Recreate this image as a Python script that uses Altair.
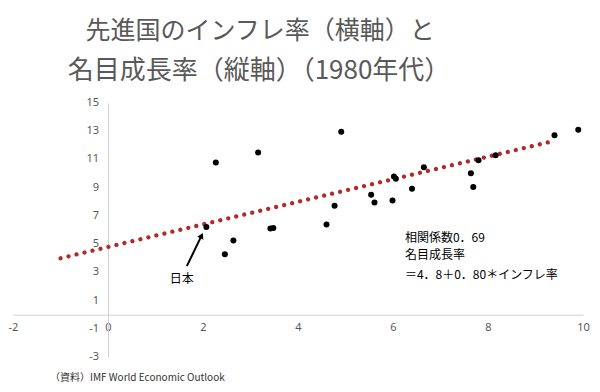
import altair as alt
import pandas as pd

# --- data ---
inflation = [2.27, 3.16, 2.07, 2.64, 2.46, 3.42, 3.48, 4.91, 4.60, 4.77, 5.54, 5.61,
             5.99, 6.02, 6.06, 6.40, 6.65, 7.64, 7.69, 7.80, 8.16, 9.40, 9.90]
growth = [10.78, 11.49, 6.22, 5.26, 4.29, 6.10, 6.15, 12.96, 6.39, 7.71, 8.49, 7.95,
          8.09, 9.80, 9.64, 8.92, 10.45, 10.03, 9.04, 10.95, 11.30, 12.72, 13.10]

trend_x = [-1.0, 9.41]
trend_y = [4.0, 12.33]

x_ticks = [-2, 0, 2, 4, 6, 8, 10]
y_ticks = [-3, -1, 1, 3, 5, 7, 9, 11, 13, 15]

title_lines = ["先進国のインフレ率（横軸）と", "名目成長率（縦軸）（1980年代）"]
note_lines = ["相関係数0．69", "名目成長率", "＝4．8＋0．80＊インフレ率"]
japan_label = "日本"
source_text = "（資料）IMF World Economic Outlook"

# arrow (tail -> head) in data units
arrow_x = [1.66, 1.97]
arrow_y = [3.44, 5.60]

FONT = "Noto Sans CJK JP"

pts = pd.DataFrame({"x": inflation, "y": growth})
trend = pd.DataFrame({"x": trend_x, "y": trend_y})

xs = alt.Scale(domain=[-2, 10], nice=False, zero=False)
ys = alt.Scale(domain=[-3, 15], nice=False, zero=False)

base_axis = dict(title=None, ticks=False, grid=False, labelFont="Noto Sans",
                 labelFontSize=11, labelColor="#595959", domainColor="#d0d0d0",
                 domainWidth=1, labelOverlap=False, labelFlush=False,
                 labelBound=False, labelExpr="'' + datum.value")

points = alt.Chart(pts).mark_circle(color="black", opacity=1, size=36).encode(
    x=alt.X("x:Q", scale=xs, axis=alt.Axis(values=x_ticks, offset=-42.33,
                                           labelPadding=7, **base_axis)),
    y=alt.Y("y:Q", scale=ys, axis=alt.Axis(values=y_ticks, offset=-95,
                                           labels=False, title=None, ticks=False,
                                           grid=False, domainColor="#d0d0d0")),
)

# y tick labels drawn as text next to the x = 0 axis line
ytick_df = pd.DataFrame({"v": y_ticks, "x0": [0] * len(y_ticks),
                         "lab": [str(v) for v in y_ticks]})
ytick_labels = alt.Chart(ytick_df).mark_text(
    font="Noto Sans", fontSize=11, color="#595959", align="right",
    baseline="middle", dx=-9
).encode(x=alt.X("x0:Q", scale=xs), y=alt.Y("v:Q", scale=ys), text="lab:N")

trendline = alt.Chart(trend).mark_line(
    color="#b02a2a", strokeWidth=4.3, strokeDash=[0.01, 8.2], strokeCap="round"
).encode(x=alt.X("x:Q", scale=xs), y=alt.Y("y:Q", scale=ys))

arrow_df = pd.DataFrame({"x": [arrow_x[0]], "y": [arrow_y[0]],
                         "x2": [arrow_x[1]], "y2": [arrow_y[1]]})
arrow_line = alt.Chart(arrow_df).mark_rule(color="black", strokeWidth=2).encode(
    x=alt.X("x:Q", scale=xs), y=alt.Y("y:Q", scale=ys), x2="x2:Q", y2="y2:Q")
arrow_head = alt.Chart(pd.DataFrame({"x": [arrow_x[1]], "y": [arrow_y[1]]})).mark_point(
    shape="triangle-up", filled=True, color="black", opacity=1, size=45, angle=26
).encode(x=alt.X("x:Q", scale=xs), y=alt.Y("y:Q", scale=ys))

japan = alt.Chart(pd.DataFrame({"t": [japan_label], "x": [1.55], "y": [2.52]})).mark_text(
    font=FONT, fontSize=12, color="black", align="center", baseline="middle"
).encode(x=alt.X("x:Q", scale=xs), y=alt.Y("y:Q", scale=ys), text="t:N")

note = alt.Chart(pd.DataFrame({"t": note_lines, "x": [6.25] * 3,
                               "y": [5.42, 4.22, 2.80]})).mark_text(
    font=FONT, fontSize=12, color="black", align="left", baseline="middle"
).encode(x=alt.X("x:Q", scale=xs), y=alt.Y("y:Q", scale=ys), text="t:N")

title1 = alt.Chart(pd.DataFrame({"t": [title_lines[0]]})).mark_text(
    font=FONT, fontSize=25, color="#595959", align="center", baseline="middle"
).encode(x=alt.value(247), y=alt.value(-72), text="t:N")
title2 = alt.Chart(pd.DataFrame({"t": [title_lines[1]]})).mark_text(
    font=FONT, fontSize=26, color="#595959", align="center", baseline="middle"
).encode(x=alt.value(246), y=alt.value(-32), text="t:N")

source = alt.Chart(pd.DataFrame({"t": [source_text]})).mark_text(
    font=FONT, fontSize=10, color="#333333", align="left", baseline="middle"
).encode(x=alt.value(37), y=alt.value(275), text="t:N")

chart = alt.layer(trendline, points, ytick_labels, arrow_line, arrow_head, japan, note,
                  title1, title2, source).properties(
    width=570, height=254,
    autosize=alt.AutoSizeParams(type="none"),
    padding={"left": 5, "top": 95, "right": 9, "bottom": 27},
    background="white",
).configure_view(stroke=None)

chart.save("out.html", embed_options={"renderer": "svg", "actions": False})
